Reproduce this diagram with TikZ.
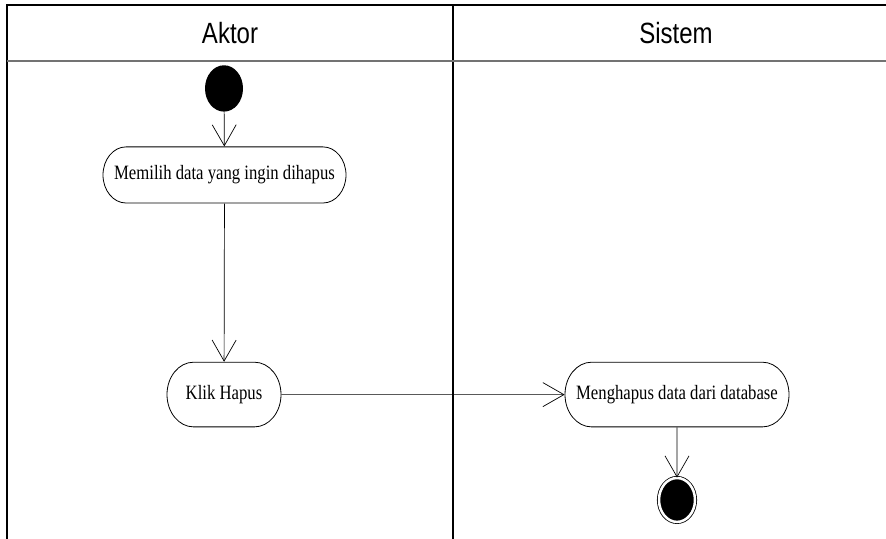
\documentclass[tikz,border=0pt]{standalone}
\usepackage{fontspec}
\setmainfont{Liberation Serif}
\newfontfamily\judulfont{Liberation Sans}
\usetikzlibrary{arrows.meta,shapes.misc}

\tikzset{
  garis/.style={line width=1.3pt},
  aktivitas/.style={rounded rectangle, draw, line width=0.8pt, inner sep=0pt,
    font=\fontsize{16.7}{20}\selectfont},
  mulai/.style={circle, fill=black, minimum size=38pt, inner sep=0pt},
  selesai/.style={circle, fill=black, draw=black, line width=0.8pt, double=white,
    double distance=2.5pt, minimum size=36pt, inner sep=0pt},
  alur/.style={-{Straight Barb[length=21pt,width=24pt]}, line width=0.7pt},
  judul/.style={font=\judulfont\fontsize{24}{28}\selectfont}
}

\begin{document}
\begin{tikzpicture}[x=1pt, y=-1pt, yscale=1.22, transform shape]
			\useasboundingbox (0,0) rectangle (886,441.8);
			% Kolom (swimlane)
			\draw [garis] (7,441.8) -- (7,4.1) -- (886,4.1);
			\draw [garis] (453,4.1) -- (453,441.8);
			\draw [garis, black!55] (7,50) -- (886,50);
			\node [judul] (aktor) at (230,27) {Aktor};
			\node [judul] (sistem) at (676,27) {Sistem};
			% Aktivitas
			\node [mulai] (awal) at (224,72.5) {};
			\node [aktivitas, minimum width=243pt, minimum height=46pt] (pilih) at (224.5,143.4) {Memilih data yang ingin dihapus};
			\node [aktivitas, minimum width=114pt, minimum height=53pt] (klik) at (224,323.4) {Klik Hapus};
			\node [aktivitas, minimum width=224pt, minimum height=53pt] (hapus) at (677,323.4) {Menghapus data dari database};
			\node [selesai] (akhir) at (677,409.8) {};
			% Alur
			\draw [alur] (awal) -- (pilih);
			\draw [alur] (pilih) -- (klik);
			\draw [alur] (klik) -- (hapus);
			\draw [alur] (hapus) -- (akhir);
		\end{tikzpicture}
\end{document}
